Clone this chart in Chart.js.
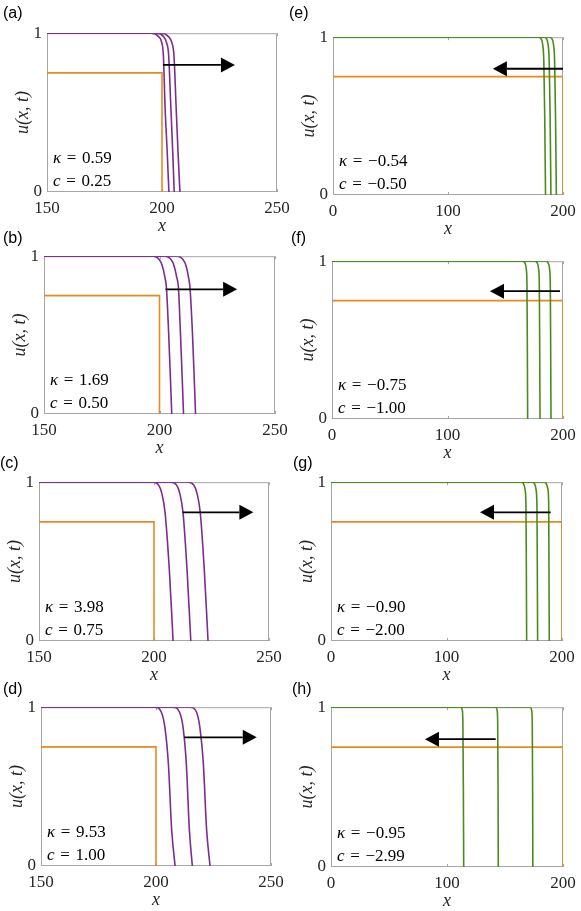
<!DOCTYPE html>
<html>
<head>
<meta charset="utf-8">
<script src="https://cdn.jsdelivr.net/npm/chart.js@4.4.1/dist/chart.umd.min.js"></script>
<style>
  html, body { margin: 0; padding: 0; background: #fff; }
  #fig { position: relative; width: 581px; height: 911px; overflow: hidden; background: #fff; }
  #fig canvas { position: absolute; }
  .tag { position: absolute; font: 16px "Liberation Sans", Arial, sans-serif; color: #000; line-height: 16px; }
</style>
</head>
<body>
<div id="fig"></div>
<script>
// --- DATA ---
const panelTags = ['(a)', '(b)', '(c)', '(d)', '(e)', '(f)', '(g)', '(h)'];
const kappaText = ['0.59', '1.69', '3.98', '9.53', '\u22120.54', '\u22120.75', '\u22120.90', '\u22120.95'];
const speedText = ['0.25', '0.50', '0.75', '1.00', '\u22120.50', '\u22121.00', '\u22122.00', '\u22122.99'];

const xTicksGrow = [150, 200, 250];
const xTicksShrink = [0, 100, 200];
const yTicks = [0, 1];

// initial condition (orange step)
const initialGrow = [[150, 0.75], [200, 0.75], [200, 0]];
const initialShrink = [[0, 0.75], [200, 0.75], [200, 0]];

// fronts, three times per panel
const curveA1 = [[150, 1], [195.5, 1], [198.4, 0.98], [199.9, 0.94], [200.6, 0.86], [201.3, 0.55], [202.3, 0.24], [203.0, 0]];
const curveA2 = [[150, 1], [197.7, 1], [200.6, 0.98], [202.0, 0.94], [202.9, 0.86], [203.8, 0.55], [204.7, 0.24], [205.3, 0]];
const curveA3 = [[150, 1], [199.9, 1], [202.7, 0.98], [204.3, 0.94], [205.2, 0.86], [206.1, 0.55], [207.0, 0.24], [207.8, 0]];

const curveB1 = [[150, 1], [197.5, 1], [199.8, 0.98], [201.2, 0.94], [202.3, 0.87], [203.0, 0.8], [204.0, 0.5], [204.8, 0.2], [205.3, 0]];
const curveB2 = [[150, 1], [202.6, 1], [204.9, 0.98], [206.3, 0.94], [207.4, 0.87], [208.2, 0.8], [209.1, 0.5], [209.9, 0.2], [210.4, 0]];
const curveB3 = [[150, 1], [207.8, 1], [210.1, 0.98], [211.5, 0.94], [212.5, 0.87], [213.2, 0.8], [214.3, 0.5], [215.1, 0.2], [215.6, 0]];

const curveC1 = [[150, 1], [199.8, 1], [202.1, 0.98], [203.4, 0.93], [204.8, 0.81], [206.7, 0.44], [208.3, 0]];
const curveC2 = [[150, 1], [207.5, 1], [209.9, 0.98], [211.2, 0.93], [212.6, 0.81], [214.4, 0.44], [216.0, 0]];
const curveC3 = [[150, 1], [215.0, 1], [217.4, 0.98], [218.7, 0.93], [220.1, 0.81], [221.9, 0.44], [223.5, 0]];

const curveD1 = [[150, 1], [199.6, 1], [202.3, 0.97], [203.9, 0.87], [205.4, 0.64], [206.8, 0.23], [208.3, 0]];
const curveD2 = [[150, 1], [207.5, 1], [210.2, 0.97], [211.8, 0.87], [213.2, 0.64], [214.5, 0.23], [215.8, 0]];
const curveD3 = [[150, 1], [214.9, 1], [217.6, 0.97], [219.1, 0.87], [220.6, 0.64], [222.0, 0.23], [223.5, 0]];

const curveE1 = [[0, 1], [179.0, 1], [181.0, 0.99], [182.4, 0.95], [183.3, 0.85], [184.1, 0.5], [184.8, 0]];
const curveE2 = [[0, 1], [183.7, 1], [185.7, 0.99], [187.1, 0.95], [188.0, 0.85], [188.8, 0.5], [189.5, 0]];
const curveE3 = [[0, 1], [188.4, 1], [190.4, 0.99], [191.8, 0.95], [192.7, 0.85], [193.5, 0.5], [194.2, 0]];

const curveF1 = [[0, 1], [165.0, 1], [167.0, 0.99], [168.2, 0.95], [168.8, 0.85], [169.1, 0.5], [169.4, 0]];
const curveF2 = [[0, 1], [175.6, 1], [177.6, 0.99], [178.9, 0.95], [179.5, 0.85], [179.8, 0.5], [180.1, 0]];
const curveF3 = [[0, 1], [185.1, 1], [187.1, 0.99], [188.4, 0.95], [189.0, 0.85], [189.3, 0.5], [189.6, 0]];

const curveG1 = [[0, 1], [164.5, 1], [166.7, 0.99], [168.1, 0.95], [168.8, 0.85], [169.1, 0.5], [169.4, 0]];
const curveG2 = [[0, 1], [174.2, 1], [176.3, 0.99], [177.6, 0.95], [178.3, 0.85], [178.6, 0.5], [178.9, 0]];
const curveG3 = [[0, 1], [184.5, 1], [186.5, 0.99], [187.9, 0.95], [188.5, 0.85], [188.7, 0.5], [189.0, 0]];

const curveH1 = [[0, 1], [112.0, 1], [113.2, 0.98], [113.7, 0.9], [114.1, 0.5], [114.4, 0]];
const curveH2 = [[0, 1], [142.0, 1], [143.2, 0.98], [143.7, 0.9], [144.0, 0.5], [144.2, 0]];
const curveH3 = [[0, 1], [171.8, 1], [173.0, 0.98], [173.5, 0.9], [173.8, 0.5], [174.0, 0]];

// direction arrows (data coords)
const arrowFromX = [200.4, 202.6, 212.5, 212.3, 200, 197.4, 190.2, 142];
const arrowToX = [231.7, 233.6, 243.2, 243.8, 139, 136.8, 129, 81];
const arrowY = [0.80, 0.79, 0.81, 0.81, 0.80, 0.81, 0.81, 0.80];

// --- LAYOUT / STYLE ---
const SERIF = '"Liberation Serif", "Times New Roman", serif';
const ORANGE = '#E8891C', PURPLE = '#7B2D8E', GREEN = '#4B8B1E';
const TXT = '#262626', FRAME = '#a6a6a6';
const AXIS_W = 35, AXIS_H = 45, PAD_T = 12, PAD_R = 22;

const boxes = [
  { l: 47, r: 277, t: 30, b: 192 },
  { l: 44, r: 275, t: 253, b: 414 },
  { l: 39, r: 269, t: 479, b: 641 },
  { l: 41, r: 271, t: 704, b: 866 },
  { l: 333, r: 563, t: 34, b: 195 },
  { l: 332, r: 563, t: 258, b: 419 },
  { l: 331, r: 562, t: 479, b: 641 },
  { l: 331, r: 563, t: 704, b: 867 }
];
const tagPos = [[3, 5], [3, 230], [0, 455], [3, 681], [289, 5], [291, 230], [293, 455], [292, 681]];

const fronts = [
  [curveA1, curveA2, curveA3], [curveB1, curveB2, curveB3],
  [curveC1, curveC2, curveC3], [curveD1, curveD2, curveD3],
  [curveE1, curveE2, curveE3], [curveF1, curveF2, curveF3],
  [curveG1, curveG2, curveG3], [curveH1, curveH2, curveH3]
];

const fig = document.getElementById('fig');

// frame + inner ticks, drawn under the data
const framePlugin = {
  id: 'frame',
  beforeDatasetsDraw(chart) {
    const { ctx, chartArea: a, scales: { x } } = chart;
    ctx.save();
    ctx.strokeStyle = FRAME;
    ctx.lineWidth = 1;
    ctx.strokeRect(a.left + 0.5, a.top + 0.5, a.right - a.left - 1, a.bottom - a.top - 1);
    x.ticks.forEach(t => {
      const px = Math.round(x.getPixelForValue(t.value)) + 0.5;
      ctx.beginPath();
      ctx.moveTo(px, a.bottom); ctx.lineTo(px, a.bottom - 3);
      ctx.moveTo(px, a.top); ctx.lineTo(px, a.top + 3);
      ctx.stroke();
    });
    ctx.restore();
  }
};

function mathText(ctx, x, y, sym, rest) {
  ctx.font = 'italic 17px ' + SERIF;
  ctx.fillText(sym, x, y);
  const w = ctx.measureText(sym).width;
  ctx.font = '17px ' + SERIF;
  ctx.fillText(rest, x + w, y);
}

// arrow + κ / c labels
const annotPlugin = {
  id: 'annot',
  afterDatasetsDraw(chart, args, opts) {
    const { ctx, chartArea: a, scales: { x, y } } = chart;
    const i = opts.idx;
    ctx.save();
    const x0 = x.getPixelForValue(arrowFromX[i]);
    const x1 = x.getPixelForValue(arrowToX[i]);
    const py = y.getPixelForValue(arrowY[i]);
    const dir = Math.sign(x1 - x0);
    const hl = 14, hw = 7.5;
    ctx.strokeStyle = '#000';
    ctx.fillStyle = '#000';
    ctx.lineWidth = 1.8;
    ctx.beginPath();
    ctx.moveTo(x0, py); ctx.lineTo(x1 - dir * hl, py);
    ctx.stroke();
    ctx.beginPath();
    ctx.moveTo(x1, py);
    ctx.lineTo(x1 - dir * hl, py - hw);
    ctx.lineTo(x1 - dir * hl, py + hw);
    ctx.closePath();
    ctx.fill();

    ctx.fillStyle = '#000';
    ctx.textBaseline = 'middle';
    ctx.textAlign = 'left';
    mathText(ctx, a.left + 6, a.bottom - 33, '\u03ba', '\u2004=\u2004' + kappaText[i]);
    mathText(ctx, a.left + 6, a.bottom - 10, 'c', '\u2004=\u2004' + speedText[i]);
    ctx.restore();
  }
};

boxes.forEach((b, i) => {
  const grow = i < 4;
  const pw = b.r - b.l, ph = b.b - b.t;
  const cv = document.createElement('canvas');
  cv.width = AXIS_W + pw + PAD_R;
  cv.height = PAD_T + ph + AXIS_H;
  cv.style.left = (b.l - AXIS_W) + 'px';
  cv.style.top = (b.t - PAD_T) + 'px';
  fig.appendChild(cv);

  const tag = document.createElement('div');
  tag.className = 'tag';
  tag.textContent = panelTags[i];
  tag.style.left = tagPos[i][0] + 'px';
  tag.style.top = tagPos[i][1] + 'px';
  fig.appendChild(tag);

  const lineColor = grow ? PURPLE : GREEN;
  const xt = grow ? xTicksGrow : xTicksShrink;
  const datasets = fronts[i].map(d => ({
    data: d, borderColor: lineColor, borderWidth: 1.6, pointRadius: 0,
    cubicInterpolationMode: 'monotone', fill: false
  }));
  datasets.push({
    data: grow ? initialGrow : initialShrink, borderColor: ORANGE, borderWidth: 1.6,
    pointRadius: 0, tension: 0, fill: false
  });

  new Chart(cv, {
    type: 'line',
    data: { datasets },
    options: {
      responsive: false, animation: false, maintainAspectRatio: false,
      layout: { padding: { left: 0, top: PAD_T, right: PAD_R, bottom: 0 } },
      plugins: { legend: { display: false }, tooltip: { enabled: false }, annot: { idx: i } },
      scales: {
        x: {
          type: 'linear', min: xt[0], max: xt[xt.length - 1],
          afterBuildTicks: s => { s.ticks = xt.map(v => ({ value: v })); },
          afterFit: s => { s.height = AXIS_H; },
          grid: { display: false, drawTicks: false },
          border: { display: false },
          ticks: { color: TXT, padding: 6, maxRotation: 0, font: { family: SERIF, size: 17 } },
          title: { display: true, text: 'x', color: TXT, padding: 0, font: { family: SERIF, size: 18, style: 'italic' } }
        },
        y: {
          type: 'linear', min: 0, max: 1,
          afterBuildTicks: s => { s.ticks = yTicks.map(v => ({ value: v })); },
          afterFit: s => { s.width = AXIS_W; },
          grid: { display: false, drawTicks: false },
          border: { display: false },
          ticks: { color: TXT, padding: 5, font: { family: SERIF, size: 17 } },
          title: { display: true, text: 'u(x, t)', color: TXT, padding: 0, font: { family: SERIF, size: 18, style: 'italic' } }
        }
      }
    },
    plugins: [framePlugin, annotPlugin]
  });
});
</script>
</body>
</html>
